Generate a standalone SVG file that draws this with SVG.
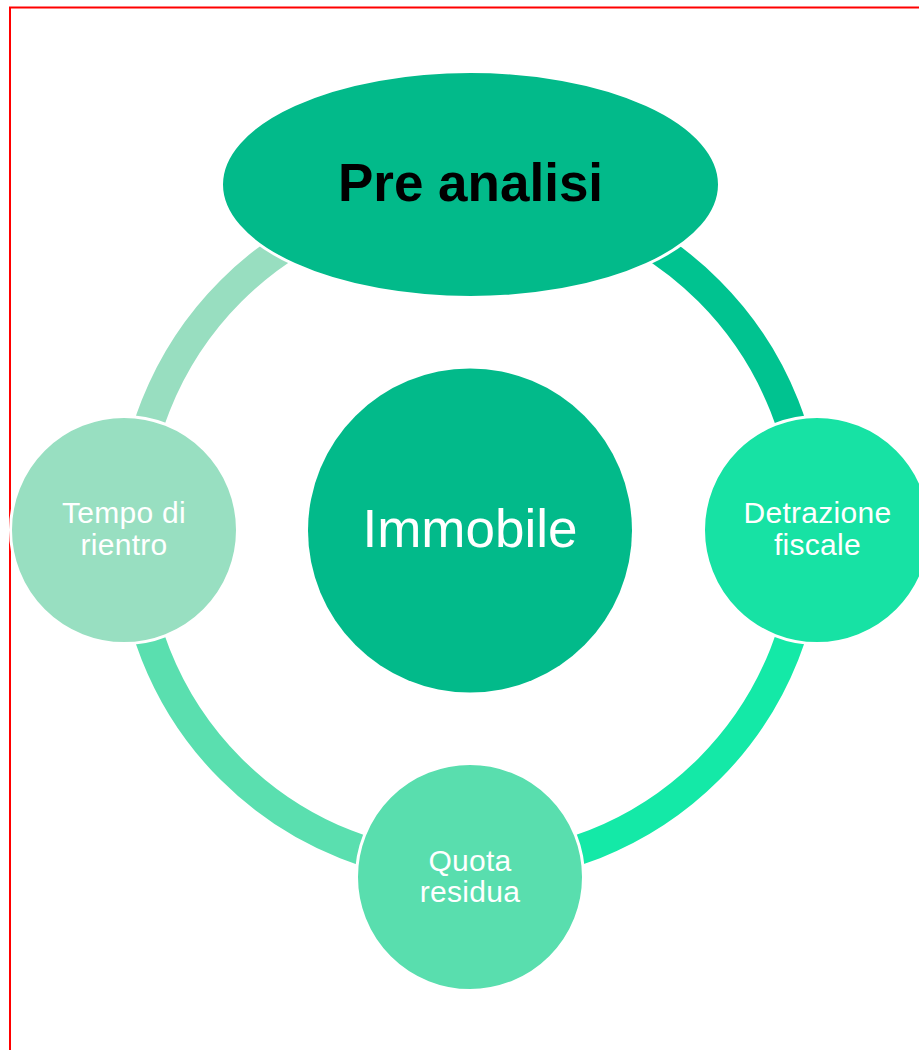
<svg xmlns="http://www.w3.org/2000/svg" width="919" height="1050" viewBox="0 0 919 1050">
<style>
.arc{fill:none;stroke-width:30}
.node{stroke:#fff;stroke-width:3}
.sat{font-family:"Liberation Sans",Arial,sans-serif;font-size:30px;letter-spacing:0.3px;fill:#fff;text-anchor:middle}
</style>
<rect x="0" y="0" width="919" height="1050" fill="#fff"/>
<rect x="10" y="7.5" width="1000" height="1100" fill="none" stroke="#ff0000" stroke-width="2"/>
<g id="connectors">
<path class="arc" stroke="#98DEC0" d="M132,530 A338,338 0 0 1 470,192"/>
<path class="arc" stroke="#00C390" d="M470,192 A338,338 0 0 1 808,530"/>
<path class="arc" stroke="#14E9A7" d="M808,530 A338,338 0 0 1 470,868"/>
<path class="arc" stroke="#5ADFAF" d="M470,868 A338,338 0 0 1 132,530"/>
</g>
<g id="center">
<circle cx="470" cy="530.5" r="162" fill="#02BA8A"/>
<text x="470" y="547" font-family="'Liberation Sans',Arial,sans-serif" font-size="53" fill="#fff" text-anchor="middle">Immobile</text>
</g>
<g id="pre-analisi">
<ellipse class="node" cx="470.5" cy="184.5" rx="249" ry="113" fill="#02BA8A"/>
<text x="470.5" y="201" font-family="'Liberation Sans',Arial,sans-serif" font-size="53" font-weight="bold" fill="#000" text-anchor="middle">Pre analisi</text>
</g>
<g id="detrazione">
<circle class="node" cx="817" cy="530" r="113.5" fill="#17E2A4"/>
<text class="sat" x="817.5" y="523">Detrazione</text>
<text class="sat" x="817.5" y="555">fiscale</text>
</g>
<g id="quota">
<circle class="node" cx="470" cy="877" r="113.5" fill="#59DEAE"/>
<text class="sat" x="470" y="870.5">Quota</text>
<text class="sat" x="470" y="902">residua</text>
</g>
<g id="tempo">
<circle class="node" cx="124" cy="530" r="113.5" fill="#98DFC1"/>
<text class="sat" x="124" y="523">Tempo di</text>
<text class="sat" x="124" y="555">rientro</text>
</g>
</svg>
